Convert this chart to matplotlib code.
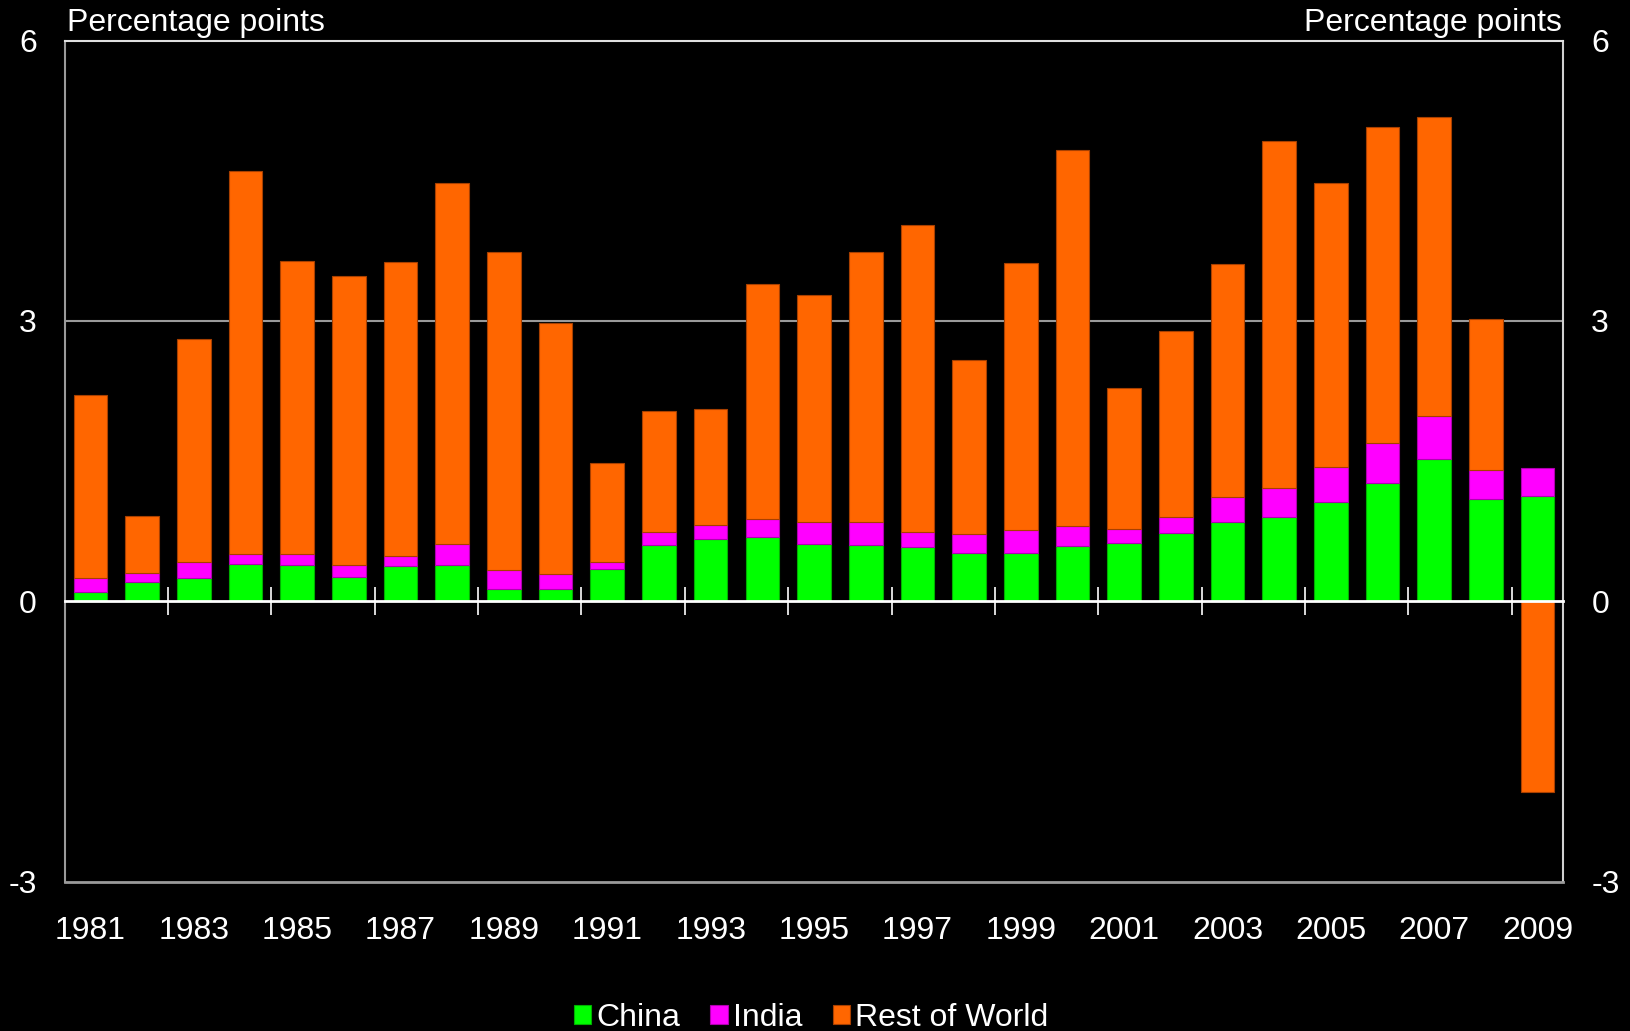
import numpy as np
import matplotlib
matplotlib.use("Agg")
import matplotlib.pyplot as plt

years = list(range(1981, 2010))
china = [0.10, 0.20, 0.25, 0.40, 0.385, 0.26, 0.38, 0.385, 0.135, 0.127,
         0.347, 0.605, 0.669, 0.69, 0.614, 0.597, 0.584, 0.512, 0.516, 0.59,
         0.62, 0.73, 0.846, 0.897, 1.06, 1.26, 1.52, 1.09, 1.13]
india = [0.145, 0.10, 0.17, 0.11, 0.125, 0.13, 0.10, 0.225, 0.195, 0.163,
         0.068, 0.131, 0.148, 0.186, 0.236, 0.253, 0.152, 0.208, 0.25, 0.21,
         0.15, 0.17, 0.264, 0.313, 0.38, 0.43, 0.46, 0.31, 0.29]
rest = [1.965, 0.61, 2.39, 4.09, 3.13, 3.09, 3.15, 3.87, 3.41, 2.69,
        1.065, 1.304, 1.243, 2.514, 2.43, 2.89, 3.294, 1.86, 2.854, 4.03,
        1.51, 1.99, 2.50, 3.71, 3.04, 3.38, 3.20, 1.62, -2.04]
series_names = ["China", "India", "Rest of World"]
colors = ["#00FF00", "#FF00FF", "#FF6600"]
edges = ["#00B000", "#B000B0", "#A84000"]
ylabel_text = "Percentage points"

plt.rcParams['font.family'] = ['Liberation Sans', 'DejaVu Sans']
FS = 23

fig = plt.figure(figsize=(16.30, 10.31), dpi=100, facecolor="black")
ax = fig.add_axes([0.0396, 0.145, 0.9196, 0.8157], facecolor="black")

x = np.arange(len(years))
pos_base = np.zeros(len(years))
neg_base = np.zeros(len(years))
handles = []
for vals, c, ec, name in zip([china, india, rest], colors, edges, series_names):
    v = np.array(vals)
    bottom = np.where(v >= 0, pos_base, neg_base)
    h = ax.bar(x, v, width=0.65, bottom=bottom, color=c, edgecolor=ec,
               linewidth=0.8, label=name, zorder=3)
    handles.append(h)
    pos_base = pos_base + np.where(v >= 0, v, 0)
    neg_base = neg_base + np.where(v < 0, v, 0)

ax.set_xlim(-0.5, len(years) - 0.5)
ax.set_ylim(-3, 6)

# gridline at 3
ax.axhline(3, color="#9a9a9a", linewidth=1.5, zorder=1)

# spines
ax.spines['top'].set_color("#e0e0e0")
ax.spines['top'].set_linewidth(1.5)
ax.spines['left'].set_color("#9a9a9a")
ax.spines['left'].set_linewidth(1.5)
ax.spines['right'].set_color("#d0d0d0")
ax.spines['right'].set_linewidth(1.5)
ax.spines['bottom'].set_color("#9a9a9a")
ax.spines['bottom'].set_linewidth(2)

# y ticks both sides
ax.set_yticks([-3, 0, 3, 6])
ax.set_yticklabels(["-3", "0", "3", "6"])
ax.tick_params(axis='y', which='both', length=0, labelsize=FS, colors="white",
               pad=20, left=True, right=True, labelleft=True, labelright=True)

# year labels at bottom
ax.set_xticks(x[::2])
ax.set_xticklabels([str(y) for y in years[::2]])
ax.tick_params(axis='x', length=0, labelsize=FS, colors="white", pad=25)

# zero axis with crossing ticks
sec = ax.secondary_xaxis(1/3)
sec.set_xticks(np.arange(1.5, len(years) - 1, 2))
sec.tick_params(axis='x', direction='inout', length=20, width=1.2,
                color="white", labelbottom=False, labeltop=False)
sec.spines['bottom'].set_color("white")
sec.spines['bottom'].set_linewidth(2)
sec.spines['top'].set_visible(False)
sec.set_zorder(4)

fig.text(0.0414, 0.9695, ylabel_text, color="white", fontsize=FS,
         ha="left", va="baseline")
fig.text(0.9585, 0.9695, ylabel_text, color="white", fontsize=FS,
         ha="right", va="baseline")

leg = fig.legend(handles, series_names, loc="center", bbox_to_anchor=(0.4975, 0.013),
                 ncol=3, frameon=False, fontsize=FS, handlelength=0.55,
                 handleheight=0.55, handletextpad=0.15, columnspacing=0.95)
for t in leg.get_texts():
    t.set_color("white")

fig.savefig("out.png", dpi=100, facecolor="black")
